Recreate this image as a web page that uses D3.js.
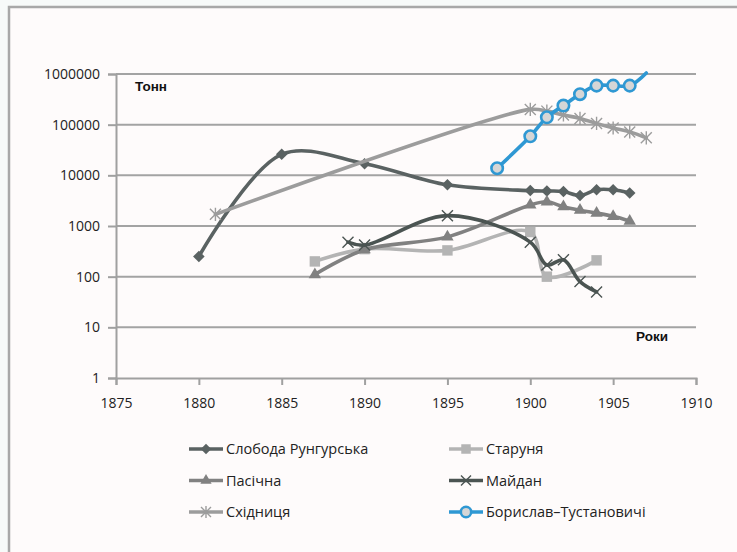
<!DOCTYPE html>
<html>
<head>
<meta charset="utf-8">
<script src="https://cdn.jsdelivr.net/npm/d3@7"></script>
<style>
  body { margin: 0; background: #f7faf9; }
  svg { display: block; }
  .tick text { font-family: "Open Sans", sans-serif; font-size: 14px; fill: #222; }
  .lbl { font-family: "Liberation Sans", Arial, sans-serif; font-weight: bold; font-size: 13.5px; fill: #111; }
  .leg { font-family: "Open Sans", sans-serif; font-size: 14.5px; fill: #222; }
</style>
</head>
<body>
<svg id="chart" width="737" height="552"></svg>
<script>
// years per series and tonnage values
var sloboda_years = [1880, 1885, 1890, 1895, 1900, 1901, 1902, 1903, 1904, 1905, 1906];
var sloboda_vals  = [250, 26000, 17000, 6500, 5000, 4900, 4800, 4000, 5200, 5200, 4500];

var starunia_years = [1887, 1890, 1895, 1900, 1901, 1904];
var starunia_vals  = [200, 350, 330, 760, 100, 210];

var pasichna_years = [1887, 1890, 1895, 1900, 1901, 1902, 1903, 1904, 1905, 1906];
var pasichna_vals  = [110, 340, 610, 2600, 3000, 2400, 2050, 1800, 1550, 1250];

var maidan_years = [1889, 1890, 1895, 1900, 1901, 1902, 1903, 1904];
var maidan_vals  = [480, 420, 1600, 480, 170, 215, 80, 50];

var skhidnytsia_years = [1881, 1900, 1901, 1902, 1903, 1904, 1905, 1906, 1907];
var skhidnytsia_vals  = [1700, 200000, 185000, 155000, 133000, 106000, 86000, 72000, 55000];

var boryslav_years = [1898, 1900, 1901, 1902, 1903, 1904, 1905, 1906, 1907];
var boryslav_vals  = [13800, 59000, 140000, 238000, 400000, 590000, 590000, 590000, 1050000];

var seriesNames = ["Слобода Рунгурська", "Старуня", "Пасічна", "Майдан", "Східниця", "Борислав–Тустановичі"];
var xTicks = [1875, 1880, 1885, 1890, 1895, 1900, 1905, 1910];
var yTicks = [1, 10, 100, 1000, 10000, 100000, 1000000];

var series = [
  { name: seriesNames[0], years: sloboda_years, vals: sloboda_vals, color: "#5a6262", marker: "diamond" },
  { name: seriesNames[1], years: starunia_years, vals: starunia_vals, color: "#b4b4b4", marker: "square" },
  { name: seriesNames[2], years: pasichna_years, vals: pasichna_vals, color: "#818181", marker: "triangle" },
  { name: seriesNames[3], years: maidan_years, vals: maidan_vals, color: "#4b5452", marker: "x" },
  { name: seriesNames[4], years: skhidnytsia_years, vals: skhidnytsia_vals, color: "#9c9c9c", marker: "star" },
  { name: seriesNames[5], years: boryslav_years, vals: boryslav_vals, color: "#2f98d3", marker: "circle" }
];

var svg = d3.select("#chart");

// chart frame
svg.append("rect")
   .attr("x", 9).attr("y", 7).attr("width", 740).attr("height", 560)
   .attr("fill", "#fefbfb").attr("stroke", "#a8a8a8").attr("stroke-width", 2.5);

var x = d3.scaleLinear().domain([1875, 1910]).range([116, 696]);
var y = d3.scaleLog().domain([1, 1000000]).range([378, 74]);

// gridlines
svg.append("g")
   .selectAll("line")
   .data(yTicks.slice(1))
   .enter()
   .append("line")
     .attr("x1", 116).attr("x2", 696)
     .attr("y1", d => y(d)).attr("y2", d => y(d))
     .attr("stroke", "#a3a3a3").attr("stroke-width", 2);

var yAxis = svg.append("g")
   .attr("transform", "translate(116,0)")
   .call(d3.axisLeft(y).tickValues(yTicks).tickFormat(d3.format("d")).tickSize(8).tickPadding(8));

var xAxis = svg.append("g")
   .attr("transform", "translate(0,378)")
   .call(d3.axisBottom(x).tickValues(xTicks).tickFormat(d3.format("d")).tickSize(7).tickPadding(13));

[yAxis, xAxis].forEach(function(a) {
  a.select(".domain").attr("stroke", "#a0a0a0").attr("stroke-width", 2);
  a.selectAll(".tick line").attr("stroke", "#a0a0a0").attr("stroke-width", 2);
});
xAxis.selectAll(".tick text").attr("dy", "0.71em");

svg.append("text").attr("class", "lbl").attr("x", 135).attr("y", 91).text("Тонн");
svg.append("text").attr("class", "lbl").attr("x", 636).attr("y", 341).text("Роки");

function markerPath(type, s) {
  switch (type) {
    case "diamond": return d3.symbol(d3.symbolSquare, s * s * 0.55)();
    case "square": return d3.symbol(d3.symbolSquare, s * s * 0.9)();
    case "triangle": return d3.symbol(d3.symbolTriangle, s * s * 0.55)();
    case "circle": return d3.symbol(d3.symbolCircle, s * s * 0.85)();
    case "x": var h = s / 2;
      return `M${-h},${-h}L${h},${h}M${-h},${h}L${h},${-h}`;
    case "star": var k = s / 2;
      return `M${-k},${-k}L${k},${k}M${-k},${k}L${k},${-k}M0,${-k * 1.2}L0,${k * 1.2}`;
  }
}

function styleMarker(sel, d) {
  if (d.marker === "x" || d.marker === "star") {
    sel.attr("fill", "none").attr("stroke", d.color).attr("stroke-width", 1.4);
  } else if (d.marker === "circle") {
    sel.attr("fill", "#d6d6d6").attr("stroke", d.color).attr("stroke-width", 2.6);
  } else {
    sel.attr("fill", d.color).attr("stroke", "none");
  }
  if (d.marker === "diamond") sel.attr("transform", (sel.attr("transform") || "") + " rotate(45)");
}

var line = d3.line()
  .x(p => x(p[0]))
  .y(p => y(p[1]))
  .curve(d3.curveCatmullRom.alpha(0.5));

series.forEach(function(d) {
  var pts = d.years.map((yr, i) => [yr, d.vals[i]]);
  svg.append("path")
     .attr("d", line(pts))
     .attr("fill", "none")
     .attr("stroke", d.color)
     .attr("stroke-width", 3.6)
     .attr("stroke-linecap", "round")
     .attr("stroke-linejoin", "round");

  pts.filter(p => p[1] <= 1000000).forEach(function(p) {
    var m = svg.append("path")
       .attr("d", markerPath(d.marker, 11))
       .attr("transform", `translate(${x(p[0])},${y(p[1])})`);
    styleMarker(m, d);
  });
});

// legend, filled row by row
var legend = svg.append("g")
  .selectAll("g")
  .data(series)
  .enter()
  .append("g")
    .attr("transform", (d, i) => `translate(${i % 2 ? 449 : 189},${449 + Math.floor(i / 2) * 31.5})`);

legend.append("line")
  .attr("x1", 0).attr("x2", 34)
  .attr("stroke", d => d.color).attr("stroke-width", 3.6);

legend.append("path")
  .each(function(d) {
    var m = d3.select(this)
      .attr("d", markerPath(d.marker, 10))
      .attr("transform", "translate(17,0)");
    styleMarker(m, d);
  });

legend.append("text")
  .attr("class", "leg")
  .attr("x", 37).attr("y", 0).attr("dy", "0.35em")
  .text(d => d.name);
</script>
</body>
</html>
